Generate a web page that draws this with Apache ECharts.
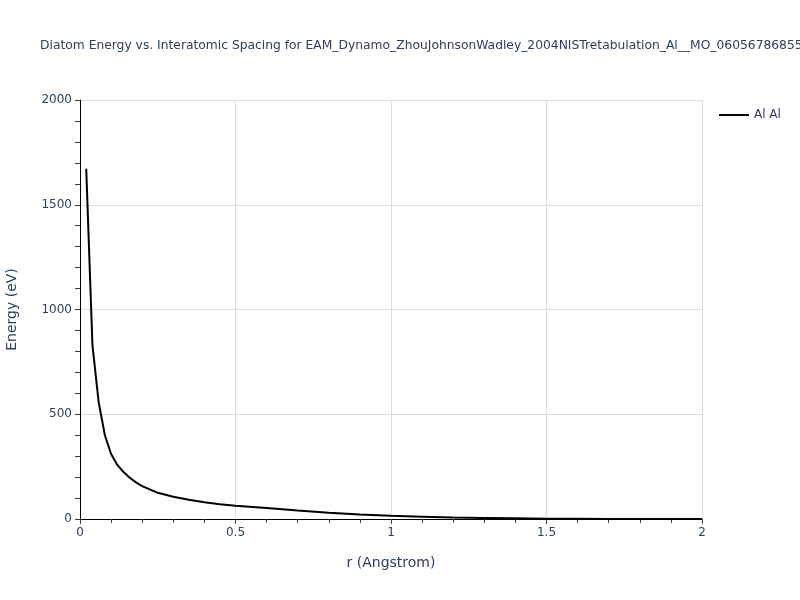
<!DOCTYPE html>
<html>
<head>
<meta charset="utf-8">
<script src="https://cdn.jsdelivr.net/npm/echarts@6/dist/echarts.min.js"></script>
<style>html,body{margin:0;padding:0;background:#fff}#c{width:800px;height:600px}</style>
</head>
<body>
<div id="c"></div>
<script>
const titleText = "Diatom Energy vs. Interatomic Spacing for EAM_Dynamo_ZhouJohnsonWadley_2004NISTretabulation_Al__MO_060567868558_000";
const seriesName = "Al Al";
const rValues = [0.02,0.04,0.06,0.08,0.10,0.12,0.14,0.16,0.18,0.20,0.25,0.30,0.35,0.40,0.45,0.50,0.6,0.7,0.8,0.9,1.0,1.1,1.2,1.3,1.4,1.5,1.6,1.7,1.8,1.9,2.0];
const energyValues = [1672,830,558,400,310,258,224,197,175,157,125,106,92,80,70,63,52,40,30,21,15,11,7,5,3,1.5,1,0.5,0.3,0.1,0];
const xTicks = [0,0.5,1,1.5,2];
const yTicks = [0,500,1000,1500,2000];

const chart = echarts.init(document.getElementById('c'), null, {renderer:'canvas'});
const fontFam = '"DejaVu Sans", Verdana, sans-serif';
const txtColor = '#2a3f5f';
chart.setOption({
  animation:false,
  backgroundColor:'#fff',
  title:{text:titleText, left:40, top:40, padding:0, textStyle:{fontFamily:fontFam, fontSize:12.3, fontWeight:'normal', color:txtColor}},
  legend:{data:[seriesName], left:714, top:104, orient:'vertical', itemWidth:30, itemHeight:2, itemGap:8,
    icon:'rect', textStyle:{fontFamily:fontFam, fontSize:12, color:txtColor}},
  grid:{left:80, right:98, top:100, bottom:81, containLabel:false, outerBoundsMode:'none'},
  xAxis:{type:'value', min:xTicks[0], max:xTicks[xTicks.length-1], interval:0.5,
    name:'r (Angstrom)', nameLocation:'middle', nameGap:37,
    nameTextStyle:{fontFamily:fontFam, fontSize:14, color:txtColor},
    axisLine:{show:true, lineStyle:{color:'#000', width:1}},
    axisTick:{show:true, length:5, lineStyle:{color:'#444'}},
    minorTick:{show:true, splitNumber:5, length:4, lineStyle:{color:'#444'}},
    splitLine:{show:true, lineStyle:{color:'#dddddd', width:1}},
    axisLabel:{fontFamily:fontFam, fontSize:12, color:txtColor, margin:8,
      formatter:v=>String(v)}},
  yAxis:{type:'value', min:yTicks[0], max:yTicks[yTicks.length-1], interval:500,
    name:'Energy (eV)', nameLocation:'middle', nameGap:61, nameRotate:90,
    nameTextStyle:{fontFamily:fontFam, fontSize:14, color:txtColor},
    axisLine:{show:true, lineStyle:{color:'#000', width:1}},
    axisTick:{show:true, length:5, lineStyle:{color:'#444'}},
    minorTick:{show:true, splitNumber:5, length:5, lineStyle:{color:'#444'}},
    splitLine:{show:true, lineStyle:{color:'#dddddd', width:1}},
    axisLabel:{fontFamily:fontFam, fontSize:12, color:txtColor, margin:8,
      formatter:v=>String(v)}},
  series:[{name:seriesName, type:'line', data:rValues.map((r,i)=>[r,energyValues[i]]),
    showSymbol:false, symbol:'none', lineStyle:{color:'#000', width:2}, itemStyle:{color:'#000'}}]
});
</script>
</body>
</html>
